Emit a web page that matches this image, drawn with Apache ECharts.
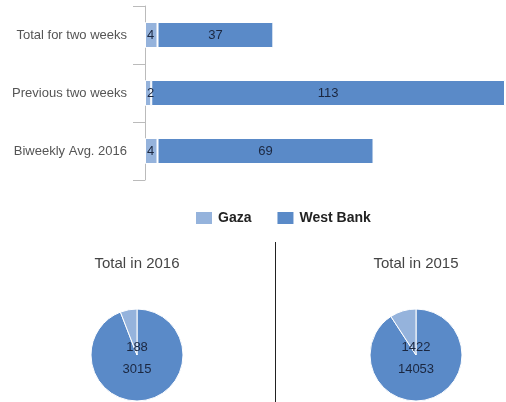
<!DOCTYPE html>
<html><head><meta charset="utf-8">
<script src="https://cdn.jsdelivr.net/npm/echarts@6/dist/echarts.min.js"></script>
<style>html,body{margin:0;padding:0;background:#fff}#c{width:506px;height:402px}</style>
</head><body><div id="c"></div>
<script>
const categories = ['Total for two weeks', 'Previous two weeks', 'Biweekly Avg. 2016'];
const gazaBars = [4, 2, 4];
const westBankBars = [37, 113, 69];
const seriesNames = ['Gaza', 'West Bank'];
const pie2016 = [188, 3015];
const pie2015 = [1422, 14053];
const pieTitles = ['Total in 2016', 'Total in 2015'];

const GAZA = '#95b3dc', WB = '#5a8ac8';
const labelColor = '#1b2740';

function pieData(vals) {
  // West Bank first (clockwise from top), Gaza last so it sits left of top
  return [
    { name: seriesNames[1], value: vals[1], itemStyle: { color: WB }, label: { offset: [0, 14] } },
    { name: seriesNames[0], value: vals[0], itemStyle: { color: GAZA }, label: { offset: [0, -8] } }
  ];
}

const chart = echarts.init(document.getElementById('c'));
chart.setOption({
  animation: false,
  textStyle: { fontFamily: 'Liberation Sans, Arial, sans-serif' },
  title: [
    { text: pieTitles[0], left: 137, top: 256, textAlign: 'center', padding: 0,
      textStyle: { fontSize: 15, fontWeight: 'normal', color: '#444' } },
    { text: pieTitles[1], left: 416, top: 256, textAlign: 'center', padding: 0,
      textStyle: { fontSize: 15, fontWeight: 'normal', color: '#444' } }
  ],
  legend: {
    data: seriesNames, top: 210, left: 194, padding: 0, itemWidth: 18, itemHeight: 14, itemGap: 24,
    textStyle: { fontSize: 14, fontWeight: 'bold', color: '#222' }, icon: 'rect'
  },
  grid: { left: 145, right: 1, top: 6, height: 174 },
  xAxis: { type: 'value', min: 0, max: 115, show: false },
  yAxis: {
    type: 'category', data: categories, inverse: true,
    axisLine: { show: true, lineStyle: { color: '#bbb' } },
    axisTick: { show: true, length: 12, lineStyle: { color: '#bbb' } },
    axisLabel: { color: '#555', fontSize: 13, margin: 18 }
  },
  series: [
    { name: seriesNames[0], type: 'bar', stack: 's', data: gazaBars, barWidth: 26,
      itemStyle: { color: GAZA, borderColor: '#fff', borderWidth: 1 },
      label: { show: true, position: 'insideLeft', distance: 2, color: labelColor, fontSize: 13 } },
    { name: seriesNames[1], type: 'bar', stack: 's', data: westBankBars, barWidth: 26,
      itemStyle: { color: WB, borderColor: '#fff', borderWidth: 1 },
      label: { show: true, position: 'inside', color: labelColor, fontSize: 13 } },
    { type: 'pie', center: [137, 355], radius: 46, startAngle: 90, clockwise: true,
      data: pieData(pie2016), legendHoverLink: false,
      itemStyle: { borderColor: '#fff', borderWidth: 1 },
      label: { show: true, position: 'center', formatter: '{c}', color: labelColor, fontSize: 13 },
      labelLine: { show: false }, emphasis: { disabled: true } },
    { type: 'pie', center: [416, 355], radius: 46, startAngle: 90, clockwise: true,
      data: pieData(pie2015), legendHoverLink: false,
      itemStyle: { borderColor: '#fff', borderWidth: 1 },
      label: { show: true, position: 'center', formatter: '{c}', color: labelColor, fontSize: 13 },
      labelLine: { show: false }, emphasis: { disabled: true } }
  ],
  graphic: [
    { type: 'line', shape: { x1: 275.5, y1: 242, x2: 275.5, y2: 402 }, style: { stroke: '#222', lineWidth: 1 } }
  ]
});
</script></body></html>
